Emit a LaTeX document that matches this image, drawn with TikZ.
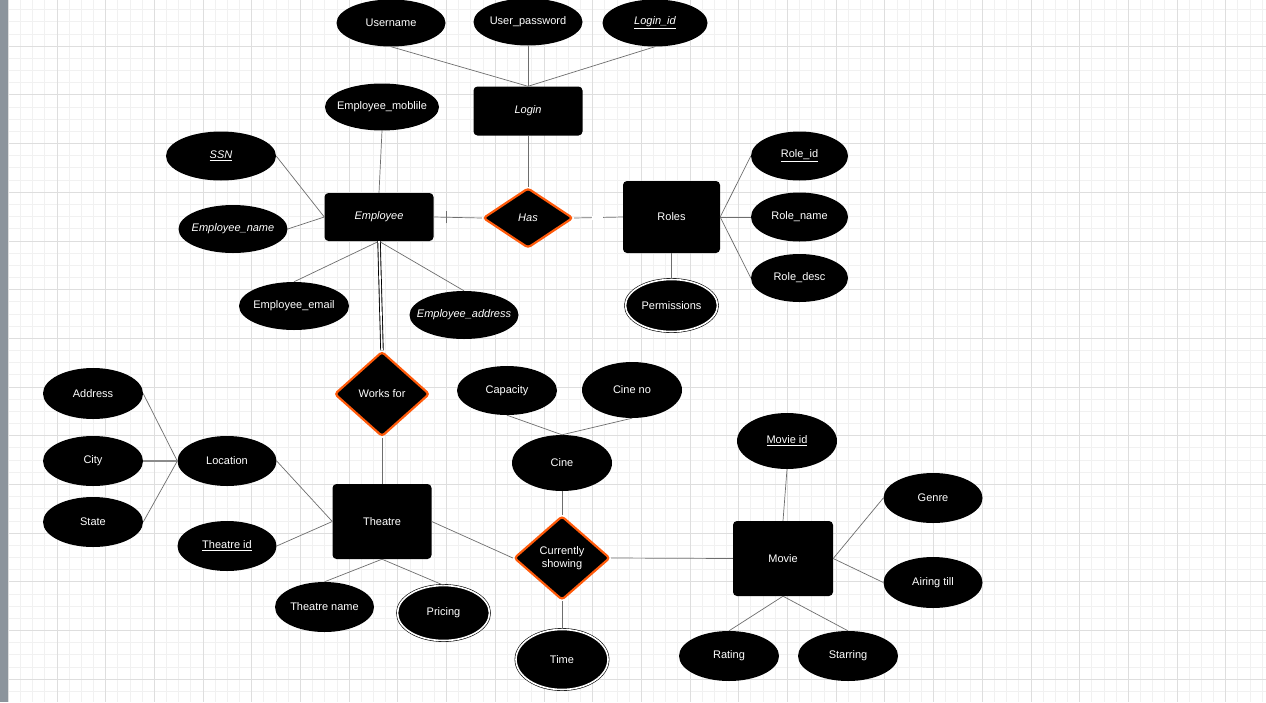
\documentclass[tikz,border=0pt]{standalone}
\usepackage{fontspec}
\setmainfont{Liberation Sans}
\usetikzlibrary{shapes.geometric}
\definecolor{gridminor}{HTML}{F1F1F1}
\definecolor{gridmajor}{HTML}{DEDEDE}
\definecolor{sidebar}{HTML}{8C949C}
\definecolor{reledge}{HTML}{FF5A0A}
\definecolor{linkgray}{HTML}{6E6E6E}
\begin{document}
\begin{tikzpicture}[x=1pt,y=-1pt,
    attr/.style={ellipse,fill=black,text=white,inner sep=0pt,inner xsep=-25pt,font=\fontsize{11}{13}\selectfont},
    multi/.style={attr,draw=black,double=white,double distance=1.6pt,line width=0.6pt},
    entity/.style={rectangle,rounded corners=4pt,fill=black,text=white,inner sep=0pt,font=\fontsize{11}{13}\selectfont},
    rel/.style={diamond,draw=reledge,line width=2.2pt,rounded corners=3pt,fill=black,text=white,inner sep=0pt,align=center,font=\fontsize{11}{13}\selectfont},
    link/.style={draw=linkgray,line width=0.7pt}]
    \useasboundingbox (0,0) rectangle (1266,702);
    \fill[white] (0,0) rectangle (1266,702);
    \foreach \k in {0,...,103} \draw[gridminor,line width=1pt] ({8.3+12.175*\k},0) -- ({8.3+12.175*\k},702);
    \foreach \k in {1,...,57} \draw[gridminor,line width=1pt] (8,{-2.5+12.175*\k}) -- (1266,{-2.5+12.175*\k});
    \foreach \k in {0,...,25} \draw[gridmajor,line width=1pt] ({8.3+48.7*\k},0) -- ({8.3+48.7*\k},702);
    \foreach \k in {1,...,14} \draw[gridmajor,line width=1pt] (8,{-2.5+48.7*\k}) -- (1266,{-2.5+48.7*\k});
    \fill[sidebar] (0,0) rectangle (8,702);

    \node(username)[attr,minimum width=109,minimum height=47] at (391,23){Username};
    \node(userpw)[attr,minimum width=109,minimum height=47] at (528,22){User\_password};
    \node(loginid)[attr,minimum width=105,minimum height=47] at (655,23){\itshape\underline{Login\_id}};
    \node(login)[entity,minimum width=109,minimum height=49] at (528,111){\itshape Login};
    \node(mobile)[attr,minimum width=114,minimum height=47] at (382,107){Employee\_moblile};
    \node(ssn)[attr,minimum width=110,minimum height=49] at (221,156){\itshape\underline{SSN}};
    \node(employee)[entity,minimum width=109,minimum height=48] at (379,217){\itshape Employee};
    \node(empname)[attr,minimum width=109,minimum height=48] at (233,229){\itshape Employee\_name};
    \node(empemail)[attr,minimum width=110,minimum height=48] at (294,306){Employee\_email};
    \node(empaddress)[attr,minimum width=109,minimum height=48] at (464,315){\itshape Employee\_address};
    \node(has)[rel,minimum width=90,minimum height=60] at (528,218){\itshape Has};
    \node(roles)[entity,minimum width=97,minimum height=72] at (671.5,217){Roles};
    \node(roleid)[attr,minimum width=97,minimum height=49] at (799.5,156){\underline{Role\_id}};
    \node(rolename)[attr,minimum width=97,minimum height=49] at (799.5,217){Role\_name};
    \node(roledesc)[attr,minimum width=97,minimum height=48] at (799.5,278){Role\_desc};
    \node(permissions)[multi,minimum width=92,minimum height=52] at (671.5,305.5){Permissions};

    \node(worksfor)[rel,minimum width=95,minimum height=85] at (382,394){Works for};
    \node(address)[attr,minimum width=100,minimum height=51] at (93,393.5){Address};
    \node(city)[attr,minimum width=100,minimum height=50] at (93,461){City};
    \node(state)[attr,minimum width=100,minimum height=50] at (93,522){State};
    \node(location)[attr,minimum width=99,minimum height=50] at (227,461){Location};
    \node(theatre)[entity,minimum width=99,minimum height=75] at (382,521.5){Theatre};
    \node(theatreid)[attr,minimum width=99,minimum height=50] at (227,546){\underline{Theatre id}};
    \node(theatrename)[attr,minimum width=99,minimum height=50] at (324.5,607){Theatre name};
    \node(pricing)[multi,minimum width=92,minimum height=55] at (443.5,613){Pricing};

    \node(capacity)[attr,minimum width=100,minimum height=49] at (507,390.5){Capacity};
    \node(cineno)[attr,minimum width=100,minimum height=56] at (632,390){Cine no};
    \node(cine)[attr,minimum width=100,minimum height=56] at (562,463){Cine};
    \node(showing)[rel,minimum width=96,minimum height=84] at (562,558){Currently\\showing};
    \node(time)[multi,minimum width=92,minimum height=60] at (562,659.5){Time};
    \node(movieid)[attr,minimum width=100,minimum height=56] at (787,441){\underline{Movie id}};
    \node(movie)[entity,minimum width=100,minimum height=75] at (783,558.5){Movie};
    \node(genre)[attr,minimum width=99,minimum height=50] at (933,498){Genre};
    \node(airing)[attr,minimum width=99,minimum height=51] at (933,582.5){Airing till};
    \node(rating)[attr,minimum width=100,minimum height=50] at (729,656){Rating};
    \node(starring)[attr,minimum width=100,minimum height=50] at (848,656){Starring};

    \draw[link] (username.south) -- (login.north);
    \draw[link] (userpw.south) -- (login.north);
    \draw[link] (loginid.south) -- (login.north);
    \draw[link] (login.south) -- (has.north);
    \draw[link] (mobile.south) -- (employee.north);
    \draw[link] (ssn.east) -- (employee.west);
    \draw[link] (empname.east) -- (employee.west);
    \draw[link] (empemail.north) -- (employee.south);
    \draw[link] (empaddress.north) -- (employee.south);
    \draw[link] (employee.east) -- coordinate[pos=0.27](tick) (has.west);
    \draw[link] ([yshift=-6pt]tick) -- ([yshift=6pt]tick);
    \draw[link] (has.east) -- node[pos=0.49,fill=white,inner sep=0pt,minimum width=11,minimum height=4]{} (roles.west);
    \draw[link] (roles.east) -- (roleid.west);
    \draw[link] (roles.east) -- (rolename.west);
    \draw[link] (roles.east) -- (roledesc.west);
    \draw[link] (roles.south) -- (permissions.north);
    \draw[black,line width=0.9pt,double=white,double distance=1.6pt] (employee.south) -- (worksfor.north);
    \draw[link] (worksfor.south) -- (theatre.north);
    \draw[link] (address.east) -- (location.west);
    \draw[link,line width=1.3pt,draw=linkgray!80] (city.east) -- (location.west);
    \draw[link] (state.east) -- (location.west);
    \draw[link] (location.east) -- (theatre.west);
    \draw[link] (theatreid.east) -- (theatre.west);
    \draw[link] (theatrename.north) -- (theatre.south);
    \draw[link] (pricing.north) -- (theatre.south);
    \draw[link] (theatre.east) -- (showing.west);
    \draw[link] (capacity.south) -- (cine.north);
    \draw[link] (cineno.south) -- (cine.north);
    \draw[link] (cine.south) -- (showing.north);
    \draw[link] (showing.south) -- (time.north);
    \draw[link] (showing.east) -- (movie.west);
    \draw[link] (movieid.south) -- (movie.north);
    \draw[link] (movie.east) -- (genre.west);
    \draw[link] (movie.east) -- (airing.west);
    \draw[link] (movie.south) -- (rating.north);
    \draw[link] (movie.south) -- (starring.north);
\end{tikzpicture}
\end{document}
